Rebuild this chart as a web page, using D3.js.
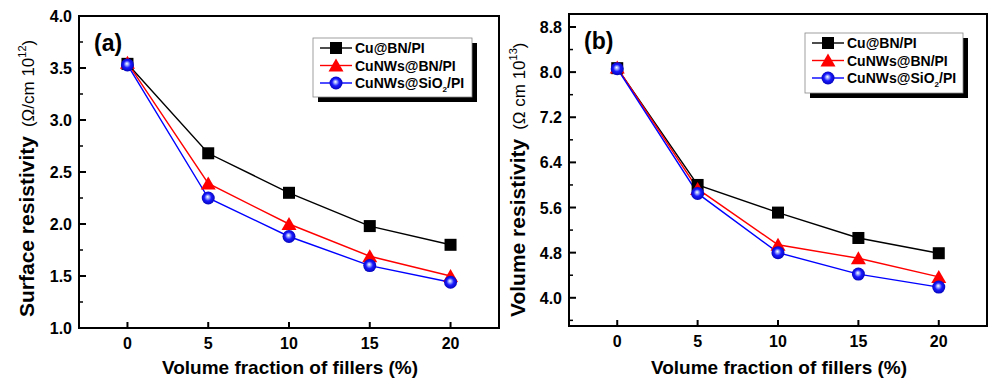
<!DOCTYPE html>
<html><head><meta charset="utf-8">
<script src="https://cdn.jsdelivr.net/npm/d3@7"></script>
<style>body{margin:0;background:#fff}svg{display:block;font-family:"Liberation Sans",Arial,sans-serif}</style>
</head><body>
<svg id="c" width="989" height="381"></svg>
<script>
// ---- data ----
const fillers = [0, 5, 10, 15, 20];
const seriesNames = ["Cu@BN/PI", "CuNWs@BN/PI", "CuNWs@SiO2/PI"];
const surfCuBN = [3.54, 2.68, 2.30, 1.98, 1.80];
const surfCuNWsBN = [3.55, 2.39, 2.00, 1.69, 1.50];
const surfCuNWsSiO2 = [3.53, 2.25, 1.88, 1.60, 1.44];
const volCuBN = [8.07, 6.00, 5.51, 5.06, 4.79];
const volCuNWsBN = [8.08, 5.93, 4.94, 4.70, 4.37];
const volCuNWsSiO2 = [8.06, 5.85, 4.80, 4.42, 4.19];
const xTicks = [0, 5, 10, 15, 20];
const surfTicks = [1.0, 1.5, 2.0, 2.5, 3.0, 3.5, 4.0];
const volTicks = [4.0, 4.8, 5.6, 6.4, 7.2, 8.0, 8.8];

const svg = d3.select("#c");
const defs = svg.append("defs");
const grad = defs.append("radialGradient").attr("id", "ball").attr("cx", "50%").attr("cy", "50%").attr("r", "55%").attr("fx", "45%").attr("fy", "40%");
grad.append("stop").attr("offset", "0%").attr("stop-color", "#ffffff");
grad.append("stop").attr("offset", "22%").attr("stop-color", "#9aa8ff");
grad.append("stop").attr("offset", "50%").attr("stop-color", "#1a1aff");
grad.append("stop").attr("offset", "100%").attr("stop-color", "#0000b0");

const colors = ["#000000", "#ff0000", "#0000ff"];

function marker(g, kind, x, y) {
  if (kind === 0) {
    g.append("rect").attr("x", x - 6).attr("y", y - 6).attr("width", 12).attr("height", 12).attr("fill", "#000");
  } else if (kind === 1) {
    g.append("path").attr("d", `M${x},${y - 7}L${x + 7.5},${y + 6}L${x - 7.5},${y + 6}Z`).attr("fill", "#ff0000");
  } else {
    g.append("circle").attr("cx", x).attr("cy", y).attr("r", 6.5).attr("fill", "url(#ball)");
  }
}

function panel(cfg) {
  const g = svg.append("g");
  const x = d3.scaleLinear().domain([-3, 23]).range([cfg.left, cfg.right]);
  const y = d3.scaleLinear().domain(cfg.yDomain).range([cfg.bottom, cfg.top]);

  cfg.series.forEach((vals, i) => {
    const line = d3.line().x((d, j) => x(fillers[j])).y(d => y(d));
    g.append("path").attr("d", line(vals)).attr("fill", "none").attr("stroke", colors[i]).attr("stroke-width", 1.4);
  });
  cfg.series.forEach((vals, i) => {
    vals.forEach((v, j) => marker(g, i, x(fillers[j]), y(v)));
  });

  g.append("rect").attr("x", cfg.left).attr("y", cfg.top).attr("width", cfg.right - cfg.left).attr("height", cfg.bottom - cfg.top)
    .attr("fill", "none").attr("stroke", "#000").attr("stroke-width", 2);

  xTicks.forEach(t => {
    g.append("line").attr("x1", x(t)).attr("x2", x(t)).attr("y1", cfg.bottom).attr("y2", cfg.bottom - 6).attr("stroke", "#000").attr("stroke-width", 2);
    g.append("text").attr("x", x(t)).attr("y", cfg.bottom + 21).attr("text-anchor", "middle")
      .attr("font-size", 16).attr("font-weight", "bold").text(t);
  });
  const step = cfg.yTicks[1] - cfg.yTicks[0];
  cfg.yTicks.forEach(t => {
    g.append("line").attr("x1", cfg.left).attr("x2", cfg.left + 7).attr("y1", y(t)).attr("y2", y(t)).attr("stroke", "#000").attr("stroke-width", 2);
    g.append("text").attr("x", cfg.left - 7).attr("y", y(t) + 6).attr("text-anchor", "end")
      .attr("font-size", 16).attr("font-weight", "bold").text(t.toFixed(1));
  });
  d3.range(cfg.yTicks[0] - step / 2, cfg.yDomain[1], step).forEach(t => {
    if (t < cfg.yDomain[0] + 0.02) return;
    g.append("line").attr("x1", cfg.left).attr("x2", cfg.left + 4).attr("y1", y(t)).attr("y2", y(t)).attr("stroke", "#000").attr("stroke-width", 1.5);
  });

  g.append("text").attr("x", (cfg.left + cfg.right) / 2 + 1).attr("y", 374).attr("text-anchor", "middle")
    .attr("font-size", 19).attr("font-weight", "bold").text("Volume fraction of fillers (%)");
  const yt = g.append("text").attr("transform", `translate(${cfg.titleX},317) rotate(-90)`).attr("text-anchor", "start");
  yt.append("tspan").attr("font-size", 21).attr("font-weight", "bold").text(cfg.yTitle);
  yt.append("tspan").attr("font-size", 17).attr("dx", 9).text(cfg.yUnit);
  yt.append("tspan").attr("font-size", 11).attr("dy", -8).text(cfg.yExp);
  yt.append("tspan").attr("font-size", 17).attr("dy", 8).text(")");

  g.append("text").attr("x", cfg.left + 15).attr("y", cfg.top + 35).attr("font-size", 23).attr("font-weight", "bold").text(cfg.label);

  const L = cfg.legend;
  g.append("rect").attr("x", L.x + 5).attr("y", L.y + 5).attr("width", L.w).attr("height", L.h).attr("fill", "#000");
  g.append("rect").attr("x", L.x).attr("y", L.y).attr("width", L.w).attr("height", L.h).attr("fill", "#fff").attr("stroke", "#888").attr("stroke-width", 0.8);
  seriesNames.forEach((name, i) => {
    const ry = L.y + 10 + i * 17.5;
    g.append("line").attr("x1", L.x + 7).attr("x2", L.x + 39).attr("y1", ry).attr("y2", ry).attr("stroke", colors[i]).attr("stroke-width", 1.4);
    marker(g, i, L.x + 23, ry);
    const t = g.append("text").attr("x", L.x + 42).attr("y", ry + 5).attr("font-size", 14).attr("font-weight", "bold");
    if (name === "CuNWs@SiO2/PI") {
      t.append("tspan").text("CuNWs@SiO");
      t.append("tspan").attr("font-size", 8).attr("dy", 4).text("2");
      t.append("tspan").attr("dy", -4).text("/PI");
    } else t.text(name);
  });
}

panel({
  left: 79, right: 499, top: 16, bottom: 328, yDomain: [1, 4], yTicks: surfTicks,
  series: [surfCuBN, surfCuNWsBN, surfCuNWsSiO2],
  titleX: 34, yTitle: "Surface resistivity", yUnit: "(Ω/cm 10", yExp: "12",
  label: "(a)", legend: { x: 313, y: 38, w: 159, h: 59 }
});
panel({
  left: 569, right: 987, top: 14, bottom: 326, yDomain: [3.5, 9.03], yTicks: volTicks,
  series: [volCuBN, volCuNWsBN, volCuNWsSiO2],
  titleX: 525, yTitle: "Volume resistivity", yUnit: "(Ω cm 10", yExp: "13",
  label: "(b)", legend: { x: 805, y: 33, w: 158, h: 60 }
});
</script>
</body></html>
